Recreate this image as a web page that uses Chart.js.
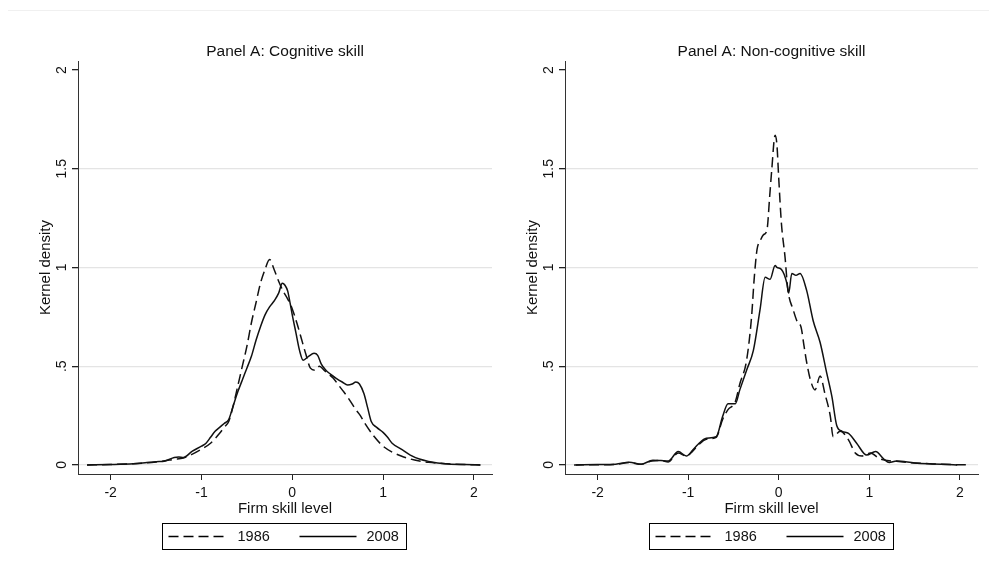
<!DOCTYPE html>
<html>
<head>
<meta charset="utf-8">
<title>Kernel density of firm skill level</title>
<script src="https://cdn.jsdelivr.net/npm/chart.js"></script>
<style>
  body { margin: 0; background: #fff; width: 989px; height: 574px; overflow: hidden; position: relative; }
  .panel { position: absolute; top: 0; height: 574px; }
  #leftPanel { left: 0; width: 500px; }
  #rightPanel { left: 487px; width: 502px; }
  .rule { position: absolute; left: 8px; right: 0; top: 10px; border-top: 1px solid #f0f0f0; }
</style>
</head>
<body>
<div class="rule"></div>
<div class="panel" id="leftPanel"><canvas id="cogChart"></canvas></div>
<div class="panel" id="rightPanel"><canvas id="nonCogChart"></canvas></div>

<script>
// series
var seriesLabels = ['1986', '2008'];

// Panel A: Cognitive skill
var cogX86 = [-2.26, -2.0, -1.75, -1.5, -1.3, -1.2, -1.1, -1.0, -0.9, -0.8, -0.75, -0.7, -0.65, -0.6, -0.55, -0.5, -0.45, -0.4, -0.35, -0.3, -0.25, -0.2, -0.15, -0.1, -0.05, 0, 0.05, 0.1, 0.15, 0.2, 0.25, 0.3, 0.35, 0.4, 0.45, 0.5, 0.55, 0.6, 0.7, 0.75, 0.8, 0.9, 1.0, 1.1, 1.2, 1.3, 1.4, 1.5, 1.7, 1.9, 2.08];
var cogY86 = [0, 0.002, 0.006, 0.015, 0.028, 0.035, 0.055, 0.08, 0.11, 0.16, 0.19, 0.22, 0.30, 0.40, 0.50, 0.60, 0.72, 0.82, 0.92, 0.99, 1.04, 0.99, 0.93, 0.88, 0.84, 0.79, 0.72, 0.64, 0.56, 0.49, 0.48, 0.50, 0.48, 0.46, 0.44, 0.41, 0.38, 0.35, 0.28, 0.25, 0.21, 0.145, 0.095, 0.065, 0.045, 0.03, 0.02, 0.013, 0.006, 0.002, 0];
var cogX08 = [-2.26, -2.0, -1.75, -1.6, -1.5, -1.4, -1.3, -1.25, -1.2, -1.1, -1.0, -0.95, -0.9, -0.85, -0.8, -0.75, -0.7, -0.65, -0.6, -0.55, -0.5, -0.45, -0.4, -0.35, -0.3, -0.25, -0.2, -0.15, -0.11, -0.08, -0.05, -0.03, 0, 0.04, 0.08, 0.12, 0.18, 0.24, 0.28, 0.32, 0.37, 0.42, 0.48, 0.55, 0.61, 0.66, 0.70, 0.74, 0.79, 0.83, 0.87, 0.93, 1.0, 1.05, 1.1, 1.2, 1.3, 1.4, 1.5, 1.6, 1.72, 1.9, 2.07];
var cogY08 = [0, 0.002, 0.006, 0.012, 0.016, 0.02, 0.038, 0.04, 0.038, 0.07, 0.095, 0.11, 0.14, 0.17, 0.19, 0.21, 0.23, 0.30, 0.37, 0.43, 0.49, 0.55, 0.63, 0.70, 0.76, 0.80, 0.83, 0.87, 0.92, 0.91, 0.88, 0.835, 0.76, 0.67, 0.58, 0.53, 0.55, 0.565, 0.555, 0.51, 0.48, 0.46, 0.44, 0.42, 0.405, 0.41, 0.42, 0.41, 0.36, 0.29, 0.22, 0.19, 0.165, 0.14, 0.11, 0.08, 0.05, 0.03, 0.018, 0.01, 0.005, 0.002, 0];

// Panel A: Non-cognitive skill
var nonX86 = [-2.26, -2.0, -1.8, -1.65, -1.52, -1.4, -1.3, -1.22, -1.11, -1.02, -0.95, -0.89, -0.8, -0.69, -0.62, -0.56, -0.48, -0.43, -0.355, -0.3, -0.27, -0.24, -0.2, -0.17, -0.13, -0.1, -0.078, -0.04, -0.02, 0.0, 0.03, 0.07, 0.1, 0.16, 0.21, 0.245, 0.28, 0.31, 0.35, 0.4, 0.457, 0.51, 0.57, 0.6, 0.68, 0.77, 0.845, 0.92, 1.01, 1.12, 1.3, 1.5, 1.7, 1.9, 2.1];
var nonY86 = [0, 0.001, 0.003, 0.012, 0.003, 0.02, 0.022, 0.015, 0.06, 0.045, 0.07, 0.1, 0.13, 0.14, 0.23, 0.28, 0.32, 0.41, 0.53, 0.75, 0.95, 1.09, 1.14, 1.165, 1.19, 1.36, 1.49, 1.67, 1.62, 1.45, 1.22, 1.05, 0.89, 0.785, 0.72, 0.70, 0.60, 0.515, 0.43, 0.38, 0.45, 0.36, 0.245, 0.143, 0.17, 0.127, 0.06, 0.045, 0.06, 0.03, 0.018, 0.01, 0.005, 0.002, 0];
var nonX08 = [-2.24, -2.0, -1.8, -1.65, -1.52, -1.39, -1.3, -1.22, -1.11, -1.02, -0.95, -0.89, -0.8, -0.69, -0.62, -0.56, -0.48, -0.43, -0.355, -0.28, -0.207, -0.15, -0.096, -0.04, -0.02, 0.03, 0.09, 0.11, 0.144, 0.19, 0.236, 0.31, 0.38, 0.457, 0.53, 0.587, 0.64, 0.70, 0.77, 0.86, 0.97, 1.07, 1.16, 1.22, 1.3, 1.5, 1.7, 1.97];
var nonY08 = [0, 0.002, 0.004, 0.013, 0.003, 0.024, 0.022, 0.02, 0.068, 0.045, 0.075, 0.105, 0.135, 0.143, 0.245, 0.31, 0.31, 0.38, 0.48, 0.58, 0.785, 0.95, 0.94, 1.01, 1.0, 0.99, 0.92, 0.87, 0.97, 0.96, 0.97, 0.88, 0.73, 0.62, 0.465, 0.346, 0.2, 0.17, 0.16, 0.11, 0.05, 0.068, 0.03, 0.012, 0.02, 0.01, 0.005, 0];

// axes
var xTicks = [-2, -1, 0, 1, 2];
var xTickLabels = ['-2', '-1', '0', '1', '2'];
var yTicks = [0, 0.5, 1, 1.5, 2];
var yTickLabels = ['0', '.5', '1', '1.5', '2'];

Chart.defaults.font.family = "'Liberation Sans', Arial, sans-serif";
Chart.defaults.color = '#111';

function toPoints(xs, ys) {
    return xs.map(function (x, i) { return {x: x, y: ys[i]}; });
}

// legend in a framed box under the plot, like the Stata one
var boxLegend = {
    id: 'boxLegend',
    afterDraw: function (chart) {
        var ctx = chart.ctx, area = chart.chartArea;
        var w = 244, h = 26;
        var left = Math.round((area.left + area.right) / 2 - w / 2 - 1) + 0.5;
        var top = 523.5;
        var sampleX = [6, 137], textX = [75, 204];
        ctx.save();
        ctx.strokeStyle = '#000';
        ctx.lineWidth = 1;
        ctx.strokeRect(left, top, w, h);
        ctx.font = '14.5px "Liberation Sans", Arial, sans-serif';
        ctx.textBaseline = 'middle';
        ctx.fillStyle = '#111';
        chart.data.datasets.forEach(function (ds, i) {
            var y = top + h / 2;
            ctx.beginPath();
            ctx.setLineDash(ds.borderDash || []);
            ctx.lineWidth = 1.4;
            ctx.moveTo(left + sampleX[i], y);
            ctx.lineTo(left + sampleX[i] + 57, y);
            ctx.stroke();
            ctx.setLineDash([]);
            ctx.fillText(ds.label, left + textX[i], y + 0.5);
        });
        ctx.restore();
    }
};

function makePanel(id, title, x86, y86, x08, y08, padRight) {
    return new Chart(document.getElementById(id), {
        type: 'line',
        data: {
            datasets: [{
                label: seriesLabels[0],
                data: toPoints(x86, y86),
                borderColor: '#111',
                borderWidth: 1.5,
                borderDash: [10, 5],
                pointRadius: 0,
                cubicInterpolationMode: 'monotone'
            }, {
                label: seriesLabels[1],
                data: toPoints(x08, y08),
                borderColor: '#111',
                borderWidth: 1.5,
                pointRadius: 0,
                cubicInterpolationMode: 'monotone'
            }]
        },
        options: {
            responsive: true,
            maintainAspectRatio: false,
            animation: false,
            layout: { padding: { left: 0, right: padRight, top: 0, bottom: 56 } },
            plugins: {
                legend: { display: false },
                tooltip: { enabled: false },
                title: {
                    display: true,
                    fullSize: false,
                    text: title,
                    color: '#111',
                    font: { size: 15.5, weight: 'normal' },
                    padding: { top: 42, bottom: 0.5 }
                }
            },
            scales: {
                x: {
                    type: 'linear',
                    min: -2.36,
                    max: 2.2,
                    afterBuildTicks: function (s) { s.ticks = xTicks.map(function (v) { return {value: v}; }); },
                    afterFit: function (s) { s.height = 44; },
                    grid: { drawOnChartArea: false, drawTicks: true, tickLength: 6, tickColor: '#222' },
                    border: { color: '#333', width: 1 },
                    ticks: {
                        padding: 4.5,
                        font: { size: 14 },
                        callback: function (v) { return xTickLabels[xTicks.indexOf(v)]; }
                    },
                    title: { display: true, text: 'Firm skill level', font: { size: 15 }, padding: 0 }
                },
                y: {
                    min: -0.046,
                    max: 2.045,
                    afterBuildTicks: function (s) { s.ticks = yTicks.map(function (v) { return {value: v}; }); },
                    afterFit: function (s) { s.width = 78; },
                    grid: {
                        color: function (c) { return c.tick && c.tick.value === 2 ? 'rgba(0,0,0,0)' : '#e4e4e4'; },
                        lineWidth: 1.3,
                        tickLength: 6,
                        tickColor: '#222'
                    },
                    border: { color: '#333', width: 1 },
                    ticks: {
                        minRotation: 90,
                        maxRotation: 90,
                        crossAlign: 'center',
                        padding: 0,
                        font: { size: 14 },
                        callback: function (v) { return yTickLabels[yTicks.indexOf(v)]; }
                    },
                    title: { display: true, text: 'Kernel density', font: { size: 15 }, padding: { top: 37, bottom: 0 } }
                }
            }
        },
        plugins: [boxLegend]
    });
}

makePanel('cogChart', 'Panel A: Cognitive skill', cogX86, cogY86, cogX08, cogY08, 8);
makePanel('nonCogChart', 'Panel A: Non-cognitive skill', nonX86, nonY86, nonX08, nonY08, 11);
</script>
</body>
</html>
